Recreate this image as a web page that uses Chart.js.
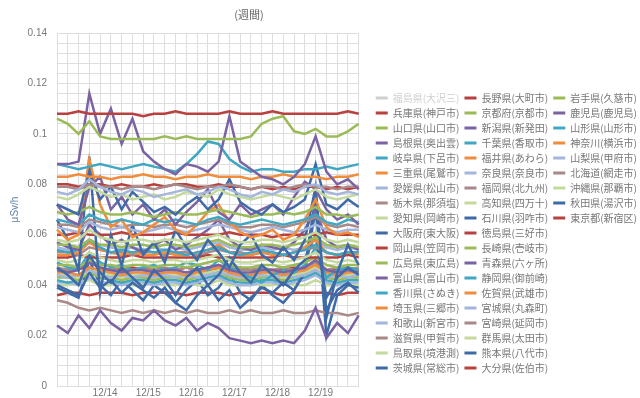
<!DOCTYPE html>
<html lang="ja">
<head>
<meta charset="utf-8">
<script src="https://cdn.jsdelivr.net/npm/chart.js@4.4.1/dist/chart.umd.min.js"></script>
<style>
  html, body { margin: 0; padding: 0; background: #fff; }
</style>
</head>
<body>
<canvas id="doseChart" width="640" height="398"></canvas>
<script>
// ===== データ (μSv/h, 6時間ごと) =====
const chartTitle = '(週間)';
const yAxisTitle = 'μSv/h';

const timeLabels = [
    '12/13 00:00', '12/13 06:00', '12/13 12:00', '12/13 18:00',
    '12/14 00:00', '12/14 06:00', '12/14 12:00', '12/14 18:00',
    '12/15 00:00', '12/15 06:00', '12/15 12:00', '12/15 18:00',
    '12/16 00:00', '12/16 06:00', '12/16 12:00', '12/16 18:00',
    '12/17 00:00', '12/17 06:00', '12/17 12:00', '12/17 18:00',
    '12/18 00:00', '12/18 06:00', '12/18 12:00', '12/18 18:00',
    '12/19 00:00', '12/19 06:00', '12/19 12:00', '12/19 18:00',
    '12/20 00:00'
];

const stationNames = [
    '福島県(大沢三)', '兵庫県(神戸市)', '山口県(山口市)', '島根県(奥出雲)', '岐阜県(下呂市)',
    '三重県(尾鷲市)', '愛媛県(松山市)', '栃木県(那須塩)', '愛知県(岡崎市)', '大阪府(東大阪)',
    '岡山県(笠岡市)', '広島県(東広島)', '富山県(富山市)', '香川県(さぬき)', '埼玉県(三郷市)',
    '和歌山(新宮市)', '滋賀県(甲賀市)', '鳥取県(境港測)', '茨城県(常総市)', '長野県(大町市)',
    '京都府(京都市)', '新潟県(新発田)', '千葉県(香取市)', '福井県(あわら)', '奈良県(奈良市)',
    '福岡県(北九州)', '高知県(四万十)', '石川県(羽咋市)', '徳島県(三好市)', '長崎県(壱岐市)',
    '青森県(六ヶ所)', '静岡県(御前崎)', '佐賀県(武雄市)', '宮城県(丸森町)', '宮崎県(延岡市)',
    '群馬県(太田市)', '熊本県(八代市)', '大分県(佐伯市)', '岩手県(久慈市)', '鹿児島(鹿児島)',
    '山形県(山形市)', '神奈川(横浜市)', '山梨県(甲府市)', '北海道(網走市)', '沖縄県(那覇市)',
    '秋田県(湯沢市)', '東京都(新宿区)'
];

// 福島はスケール外 (非表示)
const fukushima = [0.190,0.191,0.190,0.192,0.191,0.190,0.189,0.190,0.191,0.190,
    0.189,0.190,0.190,0.191,0.190,0.189,0.190,0.190,0.189,0.190,
    0.191,0.190,0.189,0.190,0.191,0.190,0.189,0.190,0.190];
const hyogo = [0.108,0.108,0.109,0.108,0.108,0.108,0.108,0.108,0.107,0.108,
    0.108,0.109,0.108,0.108,0.108,0.108,0.109,0.108,0.108,0.108,
    0.109,0.108,0.108,0.108,0.108,0.108,0.108,0.109,0.108];
const yamaguchi = [0.106,0.104,0.100,0.105,0.099,0.098,0.098,0.098,0.098,0.098,
    0.099,0.098,0.099,0.098,0.098,0.098,0.098,0.098,0.099,0.104,
    0.106,0.107,0.101,0.100,0.102,0.099,0.099,0.101,0.104];
const shimane = [0.088,0.088,0.089,0.116,0.100,0.110,0.096,0.106,0.093,0.089,
    0.086,0.084,0.088,0.087,0.085,0.089,0.107,0.089,0.086,0.083,
    0.082,0.080,0.083,0.088,0.099,0.085,0.080,0.082,0.078];
const gifu = [0.088,0.087,0.086,0.087,0.088,0.087,0.086,0.087,0.088,0.087,
    0.086,0.085,0.088,0.092,0.097,0.096,0.090,0.087,0.085,0.086,
    0.086,0.085,0.085,0.086,0.086,0.087,0.086,0.087,0.088];
const mie = [0.083,0.083,0.084,0.083,0.083,0.082,0.083,0.083,0.084,0.083,
    0.083,0.082,0.083,0.083,0.084,0.083,0.083,0.083,0.082,0.083,
    0.083,0.084,0.083,0.083,0.083,0.082,0.083,0.083,0.084];
const ehime = [0.077,0.076,0.078,0.082,0.079,0.077,0.076,0.078,0.077,0.075,
    0.076,0.077,0.078,0.076,0.077,0.079,0.078,0.076,0.075,0.077,
    0.076,0.078,0.077,0.079,0.080,0.077,0.076,0.077,0.076];
const tochigi = [0.079,0.079,0.078,0.080,0.079,0.079,0.078,0.079,0.079,0.078,
    0.079,0.080,0.079,0.078,0.079,0.079,0.080,0.079,0.078,0.079,
    0.079,0.078,0.079,0.080,0.079,0.079,0.078,0.079,0.079];
const aichi = [0.075,0.074,0.076,0.079,0.077,0.075,0.076,0.074,0.075,0.076,
    0.074,0.075,0.077,0.076,0.075,0.078,0.076,0.075,0.074,0.075,
    0.076,0.075,0.074,0.076,0.078,0.075,0.074,0.075,0.076];
const osaka = [0.072,0.070,0.068,0.085,0.074,0.079,0.070,0.077,0.073,0.069,
    0.071,0.068,0.072,0.075,0.070,0.074,0.082,0.073,0.070,0.068,
    0.072,0.069,0.071,0.074,0.088,0.072,0.070,0.074,0.071];
const okayama = [0.080,0.080,0.079,0.080,0.080,0.079,0.080,0.079,0.079,0.080,
    0.079,0.080,0.080,0.079,0.079,0.080,0.079,0.079,0.078,0.079,
    0.078,0.079,0.078,0.079,0.079,0.078,0.079,0.078,0.079];
const hiroshima = [0.069,0.068,0.069,0.071,0.069,0.068,0.068,0.069,0.068,0.067,
    0.068,0.069,0.068,0.068,0.069,0.070,0.069,0.068,0.067,0.068,
    0.068,0.069,0.068,0.069,0.071,0.068,0.068,0.067,0.068];
const toyama = [0.072,0.066,0.064,0.079,0.083,0.070,0.075,0.068,0.072,0.066,
    0.070,0.064,0.069,0.073,0.078,0.069,0.066,0.072,0.068,0.070,
    0.072,0.068,0.075,0.081,0.078,0.070,0.066,0.068,0.064];
const kagawa = [0.066,0.065,0.064,0.068,0.066,0.065,0.066,0.065,0.064,0.066,
    0.065,0.066,0.065,0.064,0.066,0.067,0.065,0.064,0.065,0.066,
    0.065,0.064,0.065,0.066,0.068,0.065,0.064,0.066,0.065];
const saitama = [0.062,0.058,0.060,0.090,0.072,0.063,0.066,0.059,0.061,0.064,
    0.067,0.062,0.060,0.064,0.069,0.072,0.065,0.061,0.059,0.060,
    0.062,0.058,0.060,0.066,0.074,0.063,0.060,0.061,0.059];
const wakayama = [0.063,0.062,0.061,0.065,0.063,0.062,0.063,0.062,0.061,0.062,
    0.063,0.062,0.061,0.062,0.063,0.064,0.063,0.062,0.061,0.062,
    0.063,0.062,0.061,0.062,0.064,0.062,0.061,0.062,0.062];
const shiga = [0.064,0.064,0.063,0.066,0.065,0.064,0.063,0.064,0.064,0.063,
    0.064,0.064,0.063,0.064,0.065,0.066,0.064,0.063,0.063,0.064,
    0.064,0.063,0.064,0.065,0.067,0.064,0.063,0.064,0.063];
const tottori = [0.058,0.057,0.058,0.062,0.059,0.058,0.057,0.058,0.058,0.057,
    0.058,0.058,0.057,0.058,0.059,0.060,0.058,0.057,0.057,0.058,
    0.058,0.057,0.058,0.059,0.061,0.058,0.057,0.058,0.057];
const ibaraki = [0.066,0.058,0.046,0.091,0.037,0.060,0.048,0.064,0.052,0.057,
    0.049,0.062,0.055,0.050,0.058,0.053,0.047,0.056,0.060,0.052,
    0.049,0.055,0.050,0.058,0.079,0.027,0.045,0.056,0.048];
const nagano = [0.060,0.060,0.061,0.060,0.060,0.060,0.061,0.060,0.060,0.060,
    0.060,0.061,0.060,0.060,0.060,0.060,0.061,0.060,0.060,0.060,
    0.059,0.060,0.060,0.060,0.060,0.061,0.060,0.060,0.060];
const kyoto = [0.056,0.056,0.055,0.058,0.056,0.056,0.055,0.056,0.056,0.055,
    0.056,0.056,0.055,0.056,0.057,0.058,0.056,0.055,0.055,0.056,
    0.056,0.055,0.056,0.057,0.059,0.056,0.055,0.056,0.055];
const niigata = [0.057,0.055,0.054,0.064,0.060,0.056,0.058,0.055,0.053,0.056,
    0.058,0.054,0.056,0.059,0.062,0.066,0.058,0.055,0.054,0.056,
    0.055,0.054,0.057,0.062,0.070,0.058,0.055,0.056,0.054];
const chiba = [0.054,0.053,0.054,0.058,0.055,0.053,0.054,0.053,0.054,0.053,
    0.054,0.053,0.052,0.053,0.054,0.055,0.053,0.052,0.053,0.054,
    0.053,0.052,0.053,0.054,0.056,0.053,0.052,0.053,0.053];
const fukui = [0.052,0.052,0.053,0.057,0.054,0.053,0.052,0.053,0.052,0.052,
    0.053,0.052,0.052,0.053,0.054,0.056,0.053,0.052,0.052,0.053,
    0.052,0.052,0.053,0.055,0.058,0.053,0.052,0.053,0.052];
const nara = [0.055,0.054,0.055,0.058,0.056,0.055,0.054,0.055,0.054,0.055,
    0.054,0.055,0.054,0.055,0.056,0.057,0.055,0.054,0.054,0.055,
    0.054,0.055,0.054,0.055,0.058,0.055,0.054,0.055,0.054];
const fukuoka = [0.053,0.053,0.052,0.055,0.054,0.053,0.053,0.052,0.053,0.053,
    0.052,0.053,0.053,0.052,0.053,0.054,0.053,0.053,0.052,0.053,
    0.053,0.052,0.053,0.054,0.055,0.053,0.052,0.053,0.053];
const kochi = [0.050,0.049,0.050,0.053,0.051,0.050,0.049,0.050,0.050,0.049,
    0.050,0.050,0.049,0.050,0.051,0.052,0.050,0.049,0.049,0.050,
    0.050,0.049,0.050,0.051,0.053,0.050,0.049,0.050,0.049];
const ishikawa = [0.047,0.044,0.040,0.052,0.045,0.041,0.047,0.043,0.039,0.046,
    0.042,0.036,0.043,0.047,0.040,0.044,0.051,0.045,0.041,0.048,
    0.044,0.040,0.046,0.050,0.060,0.035,0.043,0.047,0.044];
const tokushima = [0.051,0.051,0.052,0.051,0.051,0.051,0.051,0.052,0.051,0.051,
    0.051,0.051,0.051,0.051,0.052,0.051,0.051,0.051,0.051,0.051,
    0.051,0.052,0.051,0.051,0.051,0.051,0.051,0.052,0.051];
const nagasaki = [0.048,0.048,0.047,0.050,0.048,0.048,0.047,0.048,0.048,0.047,
    0.048,0.048,0.047,0.048,0.049,0.050,0.048,0.047,0.047,0.048,
    0.048,0.047,0.048,0.049,0.051,0.048,0.047,0.048,0.048];
const aomori = [0.046,0.045,0.046,0.049,0.047,0.046,0.045,0.046,0.046,0.045,
    0.046,0.046,0.045,0.046,0.047,0.048,0.046,0.045,0.045,0.046,
    0.046,0.045,0.046,0.047,0.050,0.046,0.045,0.046,0.045];
const shizuoka = [0.049,0.047,0.046,0.053,0.049,0.047,0.048,0.046,0.047,0.048,
    0.046,0.047,0.049,0.048,0.046,0.050,0.047,0.045,0.043,0.041,
    0.044,0.046,0.045,0.048,0.055,0.043,0.046,0.047,0.046];
const saga = [0.045,0.045,0.044,0.047,0.046,0.045,0.044,0.045,0.045,0.044,
    0.045,0.045,0.044,0.045,0.046,0.047,0.045,0.044,0.044,0.045,
    0.045,0.044,0.045,0.046,0.048,0.045,0.044,0.045,0.045];
const miyagi = [0.044,0.043,0.044,0.046,0.044,0.043,0.044,0.043,0.044,0.043,
    0.044,0.043,0.044,0.043,0.044,0.045,0.044,0.043,0.043,0.044,
    0.043,0.044,0.043,0.044,0.046,0.043,0.044,0.043,0.044];
const miyazaki = [0.047,0.046,0.047,0.049,0.047,0.046,0.047,0.046,0.047,0.046,
    0.047,0.046,0.047,0.046,0.047,0.048,0.047,0.046,0.046,0.047,
    0.046,0.047,0.046,0.047,0.049,0.046,0.047,0.046,0.047];
const gunma = [0.044,0.044,0.043,0.046,0.045,0.044,0.043,0.044,0.044,0.043,
    0.044,0.044,0.043,0.044,0.045,0.046,0.044,0.043,0.043,0.044,
    0.044,0.043,0.044,0.045,0.047,0.044,0.043,0.044,0.044];
const kumamoto = [0.040,0.038,0.036,0.045,0.039,0.042,0.037,0.041,0.038,0.035,
    0.039,0.033,0.030,0.036,0.040,0.034,0.038,0.031,0.035,0.039,
    0.037,0.041,0.038,0.045,0.070,0.030,0.038,0.041,0.037];
const oita = [0.046,0.046,0.047,0.046,0.046,0.046,0.046,0.047,0.046,0.046,
    0.046,0.046,0.047,0.046,0.046,0.046,0.046,0.047,0.046,0.046,
    0.046,0.046,0.047,0.046,0.046,0.046,0.046,0.047,0.046];
const iwate = [0.043,0.043,0.042,0.045,0.043,0.043,0.042,0.043,0.043,0.042,
    0.043,0.043,0.042,0.043,0.044,0.045,0.043,0.042,0.042,0.043,
    0.043,0.042,0.043,0.044,0.046,0.043,0.042,0.043,0.043];
const kagoshima = [0.024,0.021,0.028,0.023,0.030,0.025,0.022,0.027,0.026,0.030,
    0.026,0.024,0.027,0.022,0.025,0.023,0.019,0.018,0.017,0.018,
    0.017,0.018,0.017,0.022,0.031,0.019,0.025,0.021,0.028];
const yamagata = [0.042,0.041,0.042,0.046,0.043,0.042,0.041,0.042,0.042,0.041,
    0.042,0.042,0.041,0.042,0.043,0.044,0.042,0.041,0.041,0.042,
    0.042,0.041,0.042,0.043,0.045,0.042,0.041,0.042,0.042];
const kanagawa = [0.044,0.043,0.044,0.047,0.045,0.044,0.043,0.044,0.044,0.043,
    0.044,0.044,0.043,0.044,0.045,0.046,0.044,0.043,0.043,0.044,
    0.044,0.043,0.044,0.045,0.047,0.044,0.043,0.044,0.044];
const yamanashi = [0.041,0.041,0.040,0.043,0.041,0.041,0.040,0.041,0.041,0.040,
    0.041,0.041,0.040,0.041,0.042,0.043,0.041,0.040,0.040,0.041,
    0.041,0.040,0.041,0.042,0.044,0.041,0.040,0.041,0.041];
const hokkaido = [0.034,0.033,0.031,0.030,0.031,0.030,0.029,0.030,0.029,0.030,
    0.029,0.030,0.029,0.030,0.029,0.029,0.030,0.029,0.030,0.029,
    0.029,0.030,0.029,0.029,0.030,0.029,0.029,0.028,0.029];
const okinawa = [0.040,0.040,0.041,0.042,0.040,0.040,0.041,0.040,0.040,0.041,
    0.040,0.040,0.041,0.040,0.040,0.042,0.040,0.040,0.041,0.040,
    0.040,0.041,0.040,0.040,0.042,0.040,0.040,0.041,0.040];
const akita = [0.039,0.037,0.035,0.050,0.040,0.036,0.042,0.038,0.034,0.040,
    0.037,0.033,0.038,0.042,0.036,0.039,0.045,0.037,0.034,0.040,
    0.036,0.033,0.038,0.047,0.075,0.020,0.036,0.040,0.039];
const tokyo = [0.036,0.037,0.037,0.036,0.037,0.037,0.037,0.036,0.037,0.037,
    0.037,0.037,0.036,0.037,0.037,0.037,0.036,0.037,0.037,0.037,
    0.037,0.036,0.037,0.037,0.037,0.037,0.036,0.037,0.037];

// 凡例と同じ並び
const seriesValues = [
    fukushima, hyogo, yamaguchi, shimane, gifu, mie, ehime, tochigi, aichi, osaka,
    okayama, hiroshima, toyama, kagawa, saitama, wakayama, shiga, tottori, ibaraki, nagano,
    kyoto, niigata, chiba, fukui, nara, fukuoka, kochi, ishikawa, tokushima, nagasaki,
    aomori, shizuoka, saga, miyagi, miyazaki, gunma, kumamoto, oita, iwate, kagoshima,
    yamagata, kanagawa, yamanashi, hokkaido, okinawa, akita, tokyo
];

// ===== スタイル =====
const palette = ['#3e6aa8', '#b8403e', '#9bbb59', '#7b63a3', '#3fa7c2',
                 '#f08c3c', '#a4b6db', '#a98888', '#c4d99c'];
const hiddenColor = '#cfcfcf';
const gridColor = '#dedede';
const labelColor = '#777';
const sansFont = "'Liberation Sans', Arial, sans-serif";
const jpFont = "'Noto Sans CJK JP', sans-serif";

// ===== データセット作成 =====
const datasets = stationNames.map((name, i) => {
    const color = i === 0 ? hiddenColor : palette[i % palette.length];
    return {
        label: name,
        data: seriesValues[i],
        borderColor: color,
        backgroundColor: color,
        borderWidth: 2.5,
        pointRadius: 0,
        tension: 0,
        hidden: i === 0
    };
});

// タイトル (週間) を描く
const titlePlugin = {
    id: 'weekTitle',
    afterDraw(chart) {
        const c = chart.ctx;
        c.save();
        c.font = '11px ' + jpFont;
        c.fillStyle = '#666';
        c.textAlign = 'center';
        c.textBaseline = 'middle';
        c.fillText(chartTitle, 249, 15);
        c.restore();
    }
};

const ctx = document.getElementById('doseChart').getContext('2d');
new Chart(ctx, {
    type: 'line',
    data: { labels: timeLabels, datasets: datasets },
    options: {
        responsive: false,
        animation: false,
        events: [],
        layout: { padding: { top: 33, left: 9, right: -7, bottom: 0 } },
        plugins: {
            tooltip: { enabled: false },
            legend: {
                position: 'right',
                align: 'start',
                fullSize: false,
                maxWidth: 300,
                title: { display: true, text: ' ', padding: { top: 43, bottom: 0 }, font: { size: 10 } },
                labels: {
                    boxWidth: 12,
                    boxHeight: 3,
                    padding: 5,
                    color: labelColor,
                    font: { family: jpFont, size: 10 },
                    generateLabels: chart => chart.data.datasets.map((ds, i) => ({
                        text: ds.label,
                        fillStyle: ds.borderColor,
                        strokeStyle: ds.borderColor,
                        lineWidth: 0,
                        hidden: false,
                        fontColor: i === 0 ? hiddenColor : labelColor,
                        datasetIndex: i
                    }))
                }
            }
        },
        scales: {
            x: {
                grid: { color: gridColor, drawTicks: false },
                border: { color: gridColor },
                afterFit: scale => { scale.height = 12; },
                ticks: {
                    autoSkip: false,
                    maxRotation: 0,
                    padding: 1,
                    labelOffset: 5,
                    color: labelColor,
                    font: { family: sansFont, size: 10 },
                    callback: (val, idx) => {
                        const lab = timeLabels[idx];
                        if (idx > 0 && idx < timeLabels.length - 1 && lab.endsWith('00:00')) {
                            return lab.slice(0, 5);
                        }
                        return '';
                    }
                }
            },
            y: {
                min: 0,
                max: 0.14,
                grid: { color: gridColor, drawTicks: false },
                border: { color: gridColor },
                // 幅を固定し、目盛り余白が下端を押し上げないようにする
                afterFit: scale => {
                    scale.width = 48;
                    scale.paddingTop = 6;
                    scale.paddingBottom = 6;
                },
                title: {
                    display: true,
                    text: yAxisTitle,
                    color: '#5b7fae',
                    font: { family: sansFont, size: 10 },
                    padding: { top: 0, bottom: 6 }
                },
                ticks: {
                    stepSize: 0.004,
                    autoSkip: false,
                    padding: 10,
                    color: labelColor,
                    font: { family: sansFont, size: 10 },
                    callback: val => {
                        const m = Math.round(val * 1000);
                        return m % 20 === 0 ? String(m / 1000) : '';
                    }
                }
            },
            gap: {
                type: 'linear',
                position: 'right',
                grid: { display: false },
                border: { display: false },
                ticks: { display: false },
                afterFit: scale => { scale.width = 12; }
            }
        }
    },
    plugins: [titlePlugin]
});
</script>
</body>
</html>
